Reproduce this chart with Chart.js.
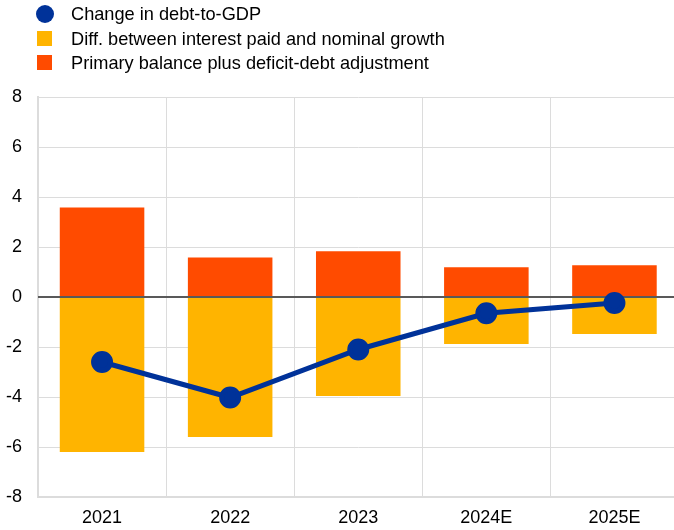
<!DOCTYPE html>
<html>
<head>
<meta charset="utf-8">
<script src="https://cdn.jsdelivr.net/npm/chart.js@4"></script>
<style>
  html, body { margin: 0; padding: 0; background: #fff; }
  #wrap { position: relative; width: 674px; height: 530px; overflow: hidden; }
  #legend { position: absolute; left: 35px; top: 2px; font: 18.2px "Liberation Sans", Arial, sans-serif; color: #000; }
  #legend div { height: 24.5px; line-height: 24px; white-space: nowrap; }
  #legend span.m { display: inline-block; width: 15px; height: 15px; vertical-align: -1px; margin-right: 19px; margin-left: 2px; }
</style>
</head>
<body>
<div id="wrap">
  <canvas id="chart" width="692" height="530"></canvas>
  <div id="legend"></div>
</div>
<script>
// debt dynamics - change in debt-to-GDP and its components
const years = ['2021', '2022', '2023', '2024E', '2025E'];
const debtChange = [-2.6, -4.02, -2.1, -0.65, -0.24];
const interestGrowthDiff = [-6.2, -5.6, -3.96, -1.88, -1.48];
const primaryBalance = [3.58, 1.58, 1.83, 1.19, 1.27];
const yTicks = [-8, -6, -4, -2, 0, 2, 4, 6, 8];

const BLUE = '#003299', YELLOW = '#FFB400', ORANGE = '#FF4B00';
const font = { family: '"Liberation Sans", Arial, sans-serif', size: 18 };

const legendItems = [
  { label: 'Change in debt-to-GDP', color: BLUE, round: true },
  { label: 'Diff. between interest paid and nominal growth', color: YELLOW },
  { label: 'Primary balance plus deficit-debt adjustment', color: ORANGE }
];
document.getElementById('legend').innerHTML = legendItems.map(it =>
  `<div><span class="m" style="background:${it.color};${it.round ? 'border-radius:50%;width:18px;height:18px;margin-left:1px;margin-right:17px;vertical-align:-3px;' : ''}"></span>${it.label}</div>`).join('');

// zero line sits over the bars but under the line series
const zeroLine = {
  id: 'zeroLine',
  beforeDatasetDraw(chart, args) {
    if (args.index !== 0) return;
    const y = chart.scales.y.getPixelForValue(0);
    const ctx = chart.ctx;
    ctx.save();
    ctx.strokeStyle = '#595959';
    ctx.lineWidth = 2;
    ctx.beginPath();
    ctx.moveTo(chart.chartArea.left, y);
    ctx.lineTo(chart.chartArea.right, y);
    ctx.stroke();
    ctx.restore();
  }
};

new Chart(document.getElementById('chart').getContext('2d'), {
  data: {
    labels: years,
    datasets: [
      { type: 'line', label: 'Change in debt-to-GDP', data: debtChange, stack: 'line', order: 0,
        borderColor: BLUE, backgroundColor: BLUE, borderWidth: 5, pointRadius: 8.5, pointHoverRadius: 8.5, tension: 0 },
      { type: 'bar', label: 'Diff. between interest paid and nominal growth', data: interestGrowthDiff, stack: 'bars', order: 1,
        backgroundColor: YELLOW, barPercentage: 0.66, categoryPercentage: 1 },
      { type: 'bar', label: 'Primary balance plus deficit-debt adjustment', data: primaryBalance, stack: 'bars', order: 1,
        backgroundColor: ORANGE, barPercentage: 0.66, categoryPercentage: 1 }
    ]
  },
  options: {
    responsive: false,
    animation: false,
    layout: { padding: { top: 97, right: 0, left: 0, bottom: 0 } },
    plugins: { legend: { display: false }, tooltip: { enabled: false } },
    scales: {
      x: {
        stacked: true,
        grid: { color: '#dcdcdc', lineWidth: 1, drawTicks: false, offset: true },
        border: { color: '#dcdcdc', width: 2 },
        ticks: { color: '#000', font, padding: 10 },
        afterFit(s) { s.height = 33; }
      },
      y: {
        stacked: true,
        min: -8, max: 8,
        afterBuildTicks(s) { s.ticks = yTicks.map(v => ({ value: v })); },
        grid: { color: '#dcdcdc', lineWidth: 1, drawTicks: false },
        border: { color: '#dcdcdc', width: 2 },
        ticks: { color: '#000', font, padding: 16 },
        afterFit(s) { s.width = 38; }
      }
    }
  },
  plugins: [zeroLine]
});
</script>
</body>
</html>
